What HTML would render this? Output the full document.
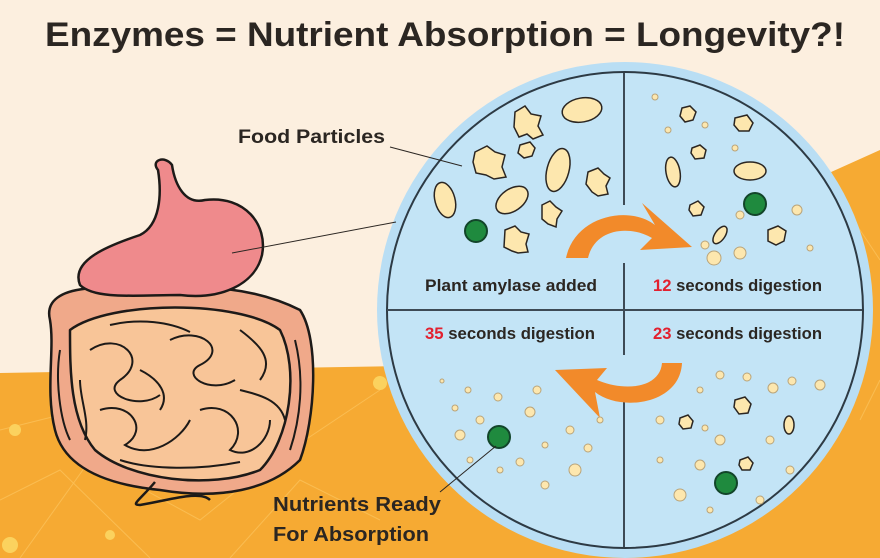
<!DOCTYPE html>
<html><head><meta charset="utf-8"><style>
html,body{margin:0;padding:0;width:880px;height:558px;overflow:hidden;background:#fcefdf}
svg{display:block}
text{font-family:"Liberation Sans",sans-serif;font-weight:bold;fill:#2b2622}
</style></head><body>
<svg width="880" height="558" viewBox="0 0 880 558" xmlns="http://www.w3.org/2000/svg">
<rect width="880" height="558" fill="#fcefdf"/>
<path d="M0 373 L400 366 L880 150 L880 558 L0 558 Z" fill="#f6aa33"/>
<g stroke="#fbc25a" stroke-width="1" opacity="0.8" fill="none">
<path d="M0 430 L120 400 L260 470 L380 390"/><path d="M20 558 L90 460 L200 520 L300 440"/>
<path d="M0 500 L60 470 L150 558"/><path d="M230 558 L300 480 L380 520"/>
<path d="M840 200 L880 260"/><path d="M860 420 L880 380"/>
</g>
<g fill="#fbd25e"><circle cx="15" cy="430" r="6"/><circle cx="120" cy="400" r="4"/><circle cx="380" cy="383" r="7"/><circle cx="10" cy="545" r="8"/><circle cx="225" cy="488" r="6"/><circle cx="110" cy="535" r="5"/></g>
<text x="45" y="46" font-size="34" textLength="800" lengthAdjust="spacingAndGlyphs">Enzymes = Nutrient Absorption = Longevity?!</text>
<circle cx="625" cy="310" r="248" fill="#b9def4"/>
<circle cx="625" cy="310" r="238" fill="#c3e4f6" stroke="#2d3a44" stroke-width="2"/>
<g stroke="#3d4a55" stroke-width="2">
<line x1="624" y1="73" x2="624" y2="205"/><line x1="624" y1="263" x2="624" y2="355"/><line x1="624" y1="392" x2="624" y2="547"/>
<line x1="387" y1="310" x2="862" y2="310"/>
</g>
<path d="M566 258 C575 215 630 205 655 225 L642 203 L692 247 L640 250 L652 238 C630 225 595 228 588 258 Z" fill="#f28a2a"/>
<path d="M682 363 C680 405 620 412 595 392 L600 418 L555 370 L607 368 L597 380 C625 392 660 388 662 363 Z" fill="#f28a2a"/>
<g fill="#fde7ae" stroke="#2b2622" stroke-width="1.5">
<ellipse cx="582" cy="110" rx="20" ry="12" transform="rotate(-10 582 110)"/>
<path d="M515 112 l10 -6 6 8 10 2 -3 10 5 9 -10 4 -6 -5 -8 3 -5 -10 z"/>
<path d="M475 152 l12 -6 8 6 10 3 -3 12 4 10 -12 2 -8 -4 -10 -2 -3 -11 z"/>
<ellipse cx="445" cy="200" rx="10" ry="18" transform="rotate(-15 445 200)"/>
<ellipse cx="512" cy="200" rx="18" ry="11" transform="rotate(-35 512 200)"/>
<ellipse cx="558" cy="170" rx="11" ry="22" transform="rotate(15 558 170)"/>
<path d="M542 205 l8 -4 6 6 6 4 -5 8 -1 8 -8 -3 -6 -5 z"/>
<path d="M505 230 l10 -4 6 6 8 2 -3 10 2 8 -10 1 -6 -2 -8 -4 z"/>
<path d="M588 172 l10 -4 6 6 6 4 -4 8 2 8 -10 2 -6 -4 -6 -8 z"/>
<path d="M520 145 l10 -3 5 6 -3 8 -8 2 -6 -5 z"/>
<path d="M682 108 l8 -2 6 6 -3 8 -8 2 -5 -6 z"/>
<path d="M692 148 l8 -3 6 5 -2 8 -9 1 -4 -6 z"/>
<ellipse cx="673" cy="172" rx="7" ry="15" transform="rotate(-10 673 172)"/>
<ellipse cx="750" cy="171" rx="16" ry="9"/>
<path d="M690 205 l8 -4 6 6 -3 8 -8 1 -4 -6 z"/>
<path d="M768 230 l10 -4 8 5 -2 10 -8 4 -8 -4 z"/>
<ellipse cx="720" cy="235" rx="5" ry="10" transform="rotate(35 720 235)"/>
<path d="M735 118 l12 -3 6 8 -4 8 -10 0 -5 -6 z"/>
<path d="M735 400 l10 -3 6 7 -3 9 -9 1 -5 -7 z"/>
<path d="M680 418 l8 -3 5 6 -2 7 -8 1 -4 -5 z"/>
<path d="M740 460 l8 -3 5 6 -3 7 -8 0 -3 -5 z"/>
<ellipse cx="789" cy="425" rx="5" ry="9"/>
</g>
<g fill="#fde7ae" stroke="#b9a47a" stroke-width="1">
<circle cx="655" cy="97" r="3"/><circle cx="668" cy="130" r="3"/><circle cx="735" cy="148" r="3"/><circle cx="797" cy="210" r="5"/><circle cx="740" cy="215" r="4"/><circle cx="714" cy="258" r="7"/><circle cx="740" cy="253" r="6"/><circle cx="705" cy="245" r="4"/><circle cx="810" cy="248" r="3"/><circle cx="705" cy="125" r="3"/>
<circle cx="720" cy="375" r="4"/><circle cx="747" cy="377" r="4"/><circle cx="773" cy="388" r="5"/><circle cx="792" cy="381" r="4"/><circle cx="820" cy="385" r="5"/><circle cx="700" cy="390" r="3"/><circle cx="660" cy="420" r="4"/><circle cx="705" cy="428" r="3"/><circle cx="720" cy="440" r="5"/><circle cx="770" cy="440" r="4"/><circle cx="700" cy="465" r="5"/><circle cx="660" cy="460" r="3"/><circle cx="790" cy="470" r="4"/><circle cx="680" cy="495" r="6"/><circle cx="760" cy="500" r="4"/><circle cx="710" cy="510" r="3"/>
<circle cx="442" cy="381" r="2"/><circle cx="468" cy="390" r="3"/><circle cx="498" cy="397" r="4"/><circle cx="537" cy="390" r="4"/><circle cx="455" cy="408" r="3"/><circle cx="480" cy="420" r="4"/><circle cx="530" cy="412" r="5"/><circle cx="570" cy="430" r="4"/><circle cx="460" cy="435" r="5"/><circle cx="545" cy="445" r="3"/><circle cx="588" cy="448" r="4"/><circle cx="520" cy="462" r="4"/><circle cx="575" cy="470" r="6"/><circle cx="470" cy="460" r="3"/><circle cx="545" cy="485" r="4"/><circle cx="500" cy="470" r="3"/><circle cx="600" cy="420" r="3"/>
</g>
<g fill="#1f8a3e" stroke="#12452a" stroke-width="2">
<circle cx="476" cy="231" r="11"/><circle cx="755" cy="204" r="11"/><circle cx="499" cy="437" r="11"/><circle cx="726" cy="483" r="11"/>
</g>
<text x="425" y="291" font-size="17" textLength="172" lengthAdjust="spacingAndGlyphs">Plant amylase added</text>
<text x="653" y="291" font-size="17" textLength="169" lengthAdjust="spacingAndGlyphs"><tspan fill="#e2202f">12</tspan> seconds digestion</text>
<text x="425" y="339" font-size="17" textLength="170" lengthAdjust="spacingAndGlyphs"><tspan fill="#e2202f">35</tspan> seconds digestion</text>
<text x="653" y="339" font-size="17" textLength="169" lengthAdjust="spacingAndGlyphs"><tspan fill="#e2202f">23</tspan> seconds digestion</text>
<g stroke="#1d1a18" stroke-width="2.5" stroke-linejoin="round">
<path d="M50 320 C40 280 120 285 150 295 C200 280 260 290 300 310 C320 340 315 420 300 460 C270 490 220 500 160 490 C110 485 65 470 55 430 C45 390 55 350 50 320 Z" fill="#f0a98a"/>
<path d="M70 330 C110 300 240 300 280 330 C300 370 290 440 260 470 C210 490 130 480 95 450 C70 420 70 370 70 330 Z" fill="#f8c598"/>
<path d="M155 482 C140 500 130 505 140 505 C170 500 200 490 210 500" fill="none"/>
</g>
<g stroke="#1d1a18" stroke-width="2" fill="none">
<path d="M90 350 C120 330 150 360 120 380 C100 395 140 410 160 395"/>
<path d="M170 340 C200 325 230 350 200 365 C180 375 210 395 235 380"/>
<path d="M100 410 C130 400 150 430 125 445 C150 460 180 440 190 420"/>
<path d="M200 410 C230 400 250 430 230 450 C250 460 270 440 270 420"/>
<path d="M240 330 C260 345 275 360 260 380"/>
<path d="M80 380 C80 400 90 420 85 440"/>
<path d="M110 325 C140 318 170 322 190 332"/>
<path d="M140 370 C160 380 170 395 160 410"/>
<path d="M240 390 C260 395 280 400 285 420"/>
<path d="M120 460 C150 470 200 470 240 462"/>
<path d="M60 350 C55 380 60 420 70 440"/>
<path d="M295 340 C305 380 300 420 290 450"/>
</g>
<path d="M158 170 C150 160 165 155 172 165 C175 185 185 205 205 200 C245 195 268 225 262 255 C255 285 220 300 180 295 C140 295 95 300 80 285 C70 260 110 245 140 235 C160 225 162 195 158 170 Z" fill="#ef8a8c" stroke="#1d1a18" stroke-width="2.5"/>
<g stroke="#2b2622" stroke-width="1">
<line x1="390" y1="147" x2="462" y2="166"/>
<line x1="232" y1="253" x2="396" y2="222"/>
<line x1="440" y1="492" x2="496" y2="446"/>
</g>
<text x="238" y="143" font-size="19" textLength="147" lengthAdjust="spacingAndGlyphs">Food Particles</text>
<text x="273" y="511" font-size="20" textLength="168" lengthAdjust="spacingAndGlyphs">Nutrients Ready</text>
<text x="273" y="541" font-size="20" textLength="156" lengthAdjust="spacingAndGlyphs">For Absorption</text>
</svg>
</body></html>
